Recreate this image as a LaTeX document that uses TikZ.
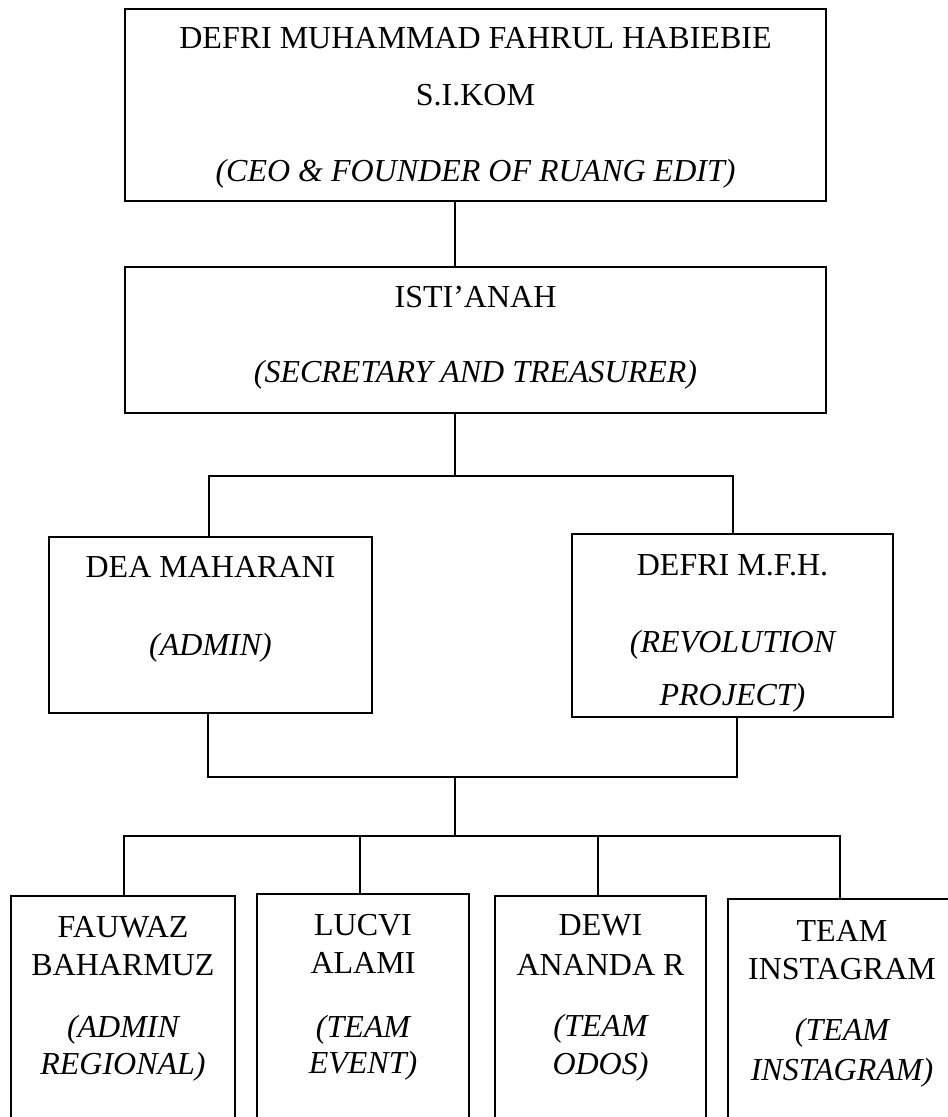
\documentclass[tikz,border=0pt]{standalone}
\usepackage{fontspec}
\setmainfont{Liberation Serif}
\begin{document}
\begin{tikzpicture}[x=1pt,y=-1pt,
  orgbox/.style={draw=black, line width=1.1pt, rectangle, inner sep=0pt, outer sep=0pt, anchor=north west},
  conn/.style={draw=black, line width=1.1pt},
  txt/.style={anchor=base, inner sep=0pt, outer sep=0pt, font=\fontsize{32}{38}\selectfont},
  itxt/.style={txt, font=\fontsize{32}{38}\selectfont\itshape}]
\useasboundingbox (0,0) rectangle (948,1117);
% boxes
\node[orgbox, minimum width=701pt, minimum height=192pt] (ceo) at (125,9) {};
\node[orgbox, minimum width=701pt, minimum height=146pt] (isti) at (125,267) {};
\node[orgbox, minimum width=323pt, minimum height=176pt] (dea) at (49,537) {};
\node[orgbox, minimum width=321pt, minimum height=183pt] (defri) at (572,534) {};
\node[orgbox, minimum width=224pt, minimum height=240pt] (b1) at (11,896) {};
\node[orgbox, minimum width=212pt, minimum height=240pt] (b2) at (257,894) {};
\node[orgbox, minimum width=211pt, minimum height=240pt] (b3) at (495,896) {};
\node[orgbox, minimum width=228pt, minimum height=240pt] (b4) at (728,899) {};
% helper coordinates
\coordinate (spine) at (455,0);
\coordinate (dl) at (209,0);
\coordinate (dr) at (733,0);
\coordinate (dl2) at (208,0);
\coordinate (dr2) at (737,0);
\coordinate (j1) at (455,476);
\coordinate (j2) at (455,777);
\coordinate (j3) at (455,836);
\coordinate (v1) at (124,0);
\coordinate (v2) at (360,0);
\coordinate (v3) at (598,0);
\coordinate (v4) at (840,0);
% connectors
\draw[conn] (ceo.south -| spine) -- (isti.north -| spine);
\draw[conn] (isti.south -| spine) -- (j1);
\draw[conn] (dea.north -| dl) |- (j1) -| (defri.north -| dr);
\draw[conn] (dea.south -| dl2) |- (j2) -| (defri.south -| dr2);
\draw[conn] (j2) -- (j3);
\draw[conn] (b1.north -| v1) |- (j3) -| (b4.north -| v4);
\draw[conn] (b2.north -| v2) -- (v2 |- j3);
\draw[conn] (b3.north -| v3) -- (v3 |- j3);
% texts
\node[txt] (t1) at (475.5,48) {DEFRI MUHAMMAD FAHRUL HABIEBIE};
\node[txt] (t2) at (475.5,105) {S.I.KOM};
\node[itxt] (t3) at (475.5,181) {(CEO \& FOUNDER OF RUANG EDIT)};
\node[txt] (t4) at (475.5,307) {ISTI’ANAH};
\node[itxt] (t5) at (475.5,382) {(SECRETARY AND TREASURER)};
\node[txt] (t6) at (210.5,577) {DEA MAHARANI};
\node[itxt] (t7) at (210.5,655) {(ADMIN)};
\node[txt] (t8) at (732.5,575) {DEFRI M.F.H.};
\node[itxt] (t9) at (732.5,652) {(REVOLUTION};
\node[itxt] (t10) at (732.5,705) {PROJECT)};
\node[txt] (t11) at (123,937) {FAUWAZ};
\node[txt] (t12) at (123,975) {BAHARMUZ};
\node[itxt] (t13) at (123,1037) {(ADMIN};
\node[itxt] (t14) at (123,1074) {REGIONAL)};
\node[txt] (t15) at (363,935) {LUCVI};
\node[txt] (t16) at (363,973) {ALAMI};
\node[itxt] (t17) at (363,1037) {(TEAM};
\node[itxt] (t18) at (363,1073) {EVENT)};
\node[txt] (t19) at (600.5,935) {DEWI};
\node[txt] (t20) at (600.5,975) {ANANDA R};
\node[itxt] (t21) at (600.5,1036) {(TEAM};
\node[itxt] (t22) at (600.5,1074) {ODOS)};
\node[txt] (t23) at (842,941) {TEAM};
\node[txt] (t24) at (842,979) {INSTAGRAM};
\node[itxt] (t25) at (842,1040) {(TEAM};
\node[itxt] (t26) at (842,1080) {INSTAGRAM)};
\end{tikzpicture}
\end{document}
